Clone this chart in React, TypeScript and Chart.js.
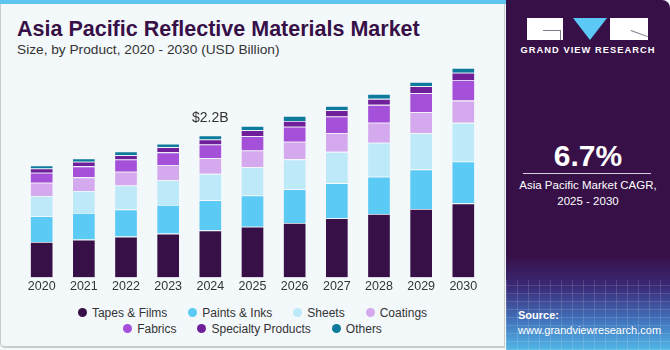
import React, { useEffect, useRef } from "react";
import { Chart, registerables } from "chart.js";

Chart.register(...registerables);

const years = ["2020", "2021", "2022", "2023", "2024", "2025", "2026", "2027", "2028", "2029", "2030"];
const tapesFilms = [0.552, 0.587, 0.634, 0.68, 0.731, 0.788, 0.846, 0.917, 0.985, 1.062, 1.149];
const paintsInks = [0.397, 0.413, 0.422, 0.444, 0.468, 0.484, 0.521, 0.546, 0.577, 0.614, 0.649];
const sheets = [0.314, 0.34, 0.371, 0.382, 0.407, 0.438, 0.464, 0.484, 0.526, 0.561, 0.598];
const coatings = [0.206, 0.212, 0.212, 0.237, 0.243, 0.258, 0.274, 0.289, 0.309, 0.325, 0.345];
const fabrics = [0.155, 0.17, 0.19, 0.196, 0.212, 0.221, 0.232, 0.258, 0.278, 0.294, 0.32];
const specialtyProducts = [0.066, 0.073, 0.066, 0.082, 0.077, 0.093, 0.088, 0.097, 0.093, 0.108, 0.113];
const others = [0.046, 0.051, 0.057, 0.051, 0.062, 0.066, 0.077, 0.066, 0.077, 0.066, 0.073];

const seriesNames = ["Tapes & Films", "Paints & Inks", "Sheets", "Coatings", "Fabrics", "Specialty Products", "Others"];
const seriesValues = [tapesFilms, paintsInks, sheets, coatings, fabrics, specialtyProducts, others];
const seriesColors = ["#371047", "#5bcaf5", "#bde9f9", "#d4a9ee", "#a550d8", "#6f1f9a", "#0e7a9c"];

const annotationYear = "2024";
const annotationText = "$2.2B";

const FONT = "'Liberation Sans', Arial, sans-serif";

export default function App() {
  const canvasRef = useRef<HTMLCanvasElement | null>(null);

  useEffect(() => {
    if (!canvasRef.current) return;
    const labelPlugin = {
      id: "topLabel",
      afterDatasetsDraw(chart: any) {
        const idx = years.indexOf(annotationYear);
        const lastMeta = chart.getDatasetMeta(seriesValues.length - 1);
        const bar = lastMeta.data[idx];
        if (!bar) return;
        const ctx = chart.ctx;
        ctx.save();
        ctx.font = `14px ${FONT}`;
        ctx.fillStyle = "#333333";
        ctx.textAlign = "center";
        ctx.textBaseline = "alphabetic";
        ctx.fillText(annotationText, bar.x, bar.y - 13.5);
        ctx.restore();
      },
    };
    const chart = new Chart(canvasRef.current, {
      type: "bar",
      data: {
        labels: years,
        datasets: seriesNames.map((name, i) => ({
          label: name,
          data: seriesValues[i],
          backgroundColor: seriesColors[i],
          borderColor: "rgba(255,255,255,0.3)",
          borderWidth: 0.8,
          categoryPercentage: 0.8,
          barPercentage: 0.69,
        })),
      },
      options: {
        animation: false,
        responsive: false,
        maintainAspectRatio: false,
        layout: { padding: { left: 20.6, right: 21.6, top: 0, bottom: 3.5 } },
        plugins: { legend: { display: false }, tooltip: { enabled: false } },
        scales: {
          x: {
            stacked: true,
            grid: { display: false, drawTicks: false },
            border: { display: false },
            ticks: { color: "#333333", font: { family: FONT, size: 12.5 }, padding: 2 },
          },
          y: {
            stacked: true,
            display: false,
            min: 0,
            max: 4.3,
          },
        },
      },
      plugins: [labelPlugin],
    });
    return () => chart.destroy();
  }, []);

  const legendRows = [seriesNames.slice(0, 4), seriesNames.slice(4)];

  return (
    <div
      style={{
        position: "fixed",
        left: 0,
        top: 0,
        width: 670,
        height: 350,
        background: "#f3f8fb",
        fontFamily: FONT,
        overflow: "hidden",
      }}
    >
      {/* left panel frame */}
      <div
        style={{
          position: "absolute",
          left: 0,
          top: 0,
          width: 505,
          height: 348,
          borderLeft: "1px solid #c9cccf",
          borderBottom: "2px solid #c9cccf",
          borderRight: "1px solid #c9cccf",
          borderBottomLeftRadius: 5,
          boxSizing: "border-box",
        }}
      />
      <div style={{ position: "absolute", left: 0, top: 0, width: 506, height: 4, background: "#5ec5ee" }} />
      <div
        style={{
          position: "absolute",
          left: 17,
          top: 17,
          fontSize: 21.5,
          fontWeight: 700,
          color: "#371047",
          whiteSpace: "nowrap",
          lineHeight: "24px",
        }}
      >
        Asia Pacific Reflective Materials Market
      </div>
      <div
        style={{
          position: "absolute",
          left: 17,
          top: 41,
          fontSize: 13.7,
          color: "#333333",
          whiteSpace: "nowrap",
          lineHeight: "18px",
        }}
      >
        Size, by Product, 2020 - 2030 (USD Billion)
      </div>
      <canvas
        ref={canvasRef}
        width={506}
        height={300}
        style={{ position: "absolute", left: 0, top: 0, width: 506, height: 300 }}
      />
      {/* legend */}
      {legendRows.map((row, r) => (
        <div
          key={r}
          style={{
            position: "absolute",
            left: 0,
            width: 505,
            top: 304.7 + r * 16,
            height: 16,
            display: "flex",
            justifyContent: "center",
            alignItems: "center",
            fontSize: 12,
            color: "#333333",
            whiteSpace: "nowrap",
          }}
        >
          {row.map((name) => {
            const i = seriesNames.indexOf(name);
            return (
              <div key={name} style={{ display: "flex", alignItems: "center", margin: "0 10.5px" }}>
                <span
                  style={{
                    display: "inline-block",
                    width: 9,
                    height: 9,
                    borderRadius: "50%",
                    background: seriesColors[i],
                    marginRight: 5,
                  }}
                />
                <span>{name}</span>
              </div>
            );
          })}
        </div>
      ))}
      {/* right panel */}
      <div
        style={{
          position: "absolute",
          left: 506,
          top: 0,
          width: 164,
          height: 350,
          background:
            "linear-gradient(180deg, #371047 0%, #371047 73%, #3b2a78 82%, #4277bf 92%, #52b6e6 100%)",
          borderTopRightRadius: 8,
          overflow: "hidden",
        }}
      >
        <div
          style={{
            position: "absolute",
            left: 0,
            top: 280,
            width: 164,
            height: 70,
            background:
              "repeating-linear-gradient(90deg, rgba(255,255,255,0.13) 0px, rgba(255,255,255,0.13) 1px, transparent 1px, transparent 11px), repeating-linear-gradient(0deg, rgba(255,255,255,0.12) 0px, rgba(255,255,255,0.12) 1px, transparent 1px, transparent 8px)",
          }}
        />
        {/* logo */}
        <div style={{ position: "absolute", left: 21, top: 18, width: 36, height: 22, background: "#ffffff" }} />
        <div style={{ position: "absolute", left: 37, top: 30, width: 18, height: 1.2, background: "#7a7a8a" }} />
        <div style={{ position: "absolute", left: 54, top: 30, width: 1.2, height: 10, background: "#7a7a8a" }} />
        <div
          style={{
            position: "absolute",
            left: 67,
            top: 18,
            width: 0,
            height: 0,
            borderLeft: "17px solid transparent",
            borderRight: "17px solid transparent",
            borderTop: "22px solid #5bc8f5",
          }}
        />
        <div style={{ position: "absolute", left: 104, top: 18, width: 38, height: 22, background: "#ffffff" }} />
        <div
          style={{
            position: "absolute",
            left: 125,
            top: 30,
            width: 18,
            height: 1.2,
            background: "#7a7a8a",
            transform: "rotate(20deg)",
            transformOrigin: "0 0",
          }}
        />
        <div
          style={{
            position: "absolute",
            left: 0,
            width: 164,
            top: 44,
            textAlign: "center",
            color: "#ffffff",
            fontSize: 9.3,
            fontWeight: 700,
            letterSpacing: 1.05,
            lineHeight: "12px",
            whiteSpace: "nowrap",
          }}
        >
          GRAND VIEW RESEARCH
        </div>
        <div
          style={{
            position: "absolute",
            left: 0,
            width: 164,
            top: 138,
            textAlign: "center",
            color: "#ffffff",
            fontSize: 30,
            fontWeight: 700,
            lineHeight: "36px",
          }}
        >
          6.7%
        </div>
        <div style={{ position: "absolute", left: 17, top: 173, width: 128, height: 1, background: "#d8d0e0" }} />
        <div
          style={{
            position: "absolute",
            left: 0,
            width: 164,
            top: 177,
            textAlign: "center",
            color: "#ffffff",
            fontSize: 11.5,
            lineHeight: "16px",
            whiteSpace: "nowrap",
          }}
        >
          Asia Pacific Market CAGR,
          <br />
          2025 - 2030
        </div>
        <div
          style={{
            position: "absolute",
            left: 12,
            top: 308,
            color: "#ffffff",
            fontSize: 11,
            lineHeight: "15px",
            whiteSpace: "nowrap",
          }}
        >
          <div style={{ fontWeight: 700 }}>Source:</div>
          <div>www.grandviewresearch.com</div>
        </div>
      </div>
    </div>
  );
}
